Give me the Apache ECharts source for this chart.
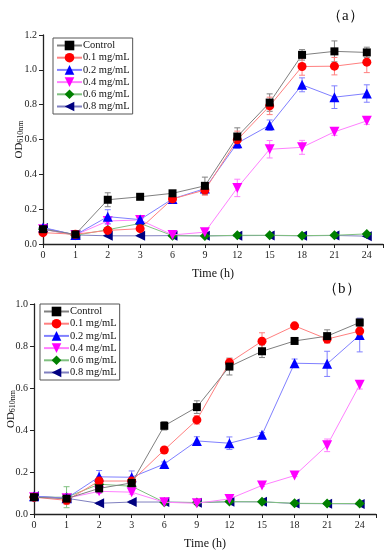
<!DOCTYPE html>
<html><head><meta charset="utf-8">
<script src="https://cdn.jsdelivr.net/npm/echarts@6/dist/echarts.min.js"></script>
<style>html,body{margin:0;padding:0;background:#fff}#c{width:392px;height:550px}</style>
</head><body><div id="c"></div>
<script>
var timeLabels = ['0','1','2','3','6','9','12','15','18','21','24'];
var names = ['Control','0.1 mg/mL','0.2 mg/mL','0.4 mg/mL','0.6 mg/mL','0.8 mg/mL'];

// Panel (a)
var ctrlA = [0.085, 0.055, 0.254, 0.271, 0.291, 0.334, 0.617, 0.812, 1.086, 1.106, 1.100];
var c01A  = [0.065, 0.056, 0.078, 0.088, 0.259, 0.310, 0.598, 0.793, 1.019, 1.021, 1.044];
var c02A  = [0.095, 0.052, 0.157, 0.140, 0.259, 0.318, 0.579, 0.682, 0.914, 0.843, 0.864];
var c04A  = [0.085, 0.052, 0.132, 0.138, 0.052, 0.068, 0.322, 0.544, 0.555, 0.644, 0.707];
var c06A  = [0.085, 0.050, 0.082, 0.118, 0.048, 0.046, 0.050, 0.050, 0.048, 0.050, 0.058];
var c08A  = [0.092, 0.052, 0.047, 0.047, 0.048, 0.047, 0.048, 0.049, 0.047, 0.049, 0.045];
var ctrlErrA = [0.010, 0.005, 0.040, 0.010, 0.010, 0.050, 0.050, 0.050, 0.030, 0.060, 0.030];
var c01ErrA  = [0.005, 0.005, 0.010, 0.010, 0.010, 0.030, 0.050, 0.050, 0.050, 0.050, 0.060];
var c02ErrA  = [0.010, 0.005, 0.040, 0.020, 0.020, 0.020, 0.030, 0.030, 0.040, 0.065, 0.050];
var c04ErrA  = [0.010, 0.005, 0.020, 0.020, 0.005, 0.010, 0.050, 0.050, 0.040, 0.020, 0.020];
var c06ErrA  = [0.005, 0.005, 0.010, 0.010, 0.005, 0.005, 0.005, 0.005, 0.005, 0.005, 0.005];
var c08ErrA  = [0.005, 0.005, 0.005, 0.005, 0.005, 0.005, 0.005, 0.005, 0.005, 0.005, 0.005];

// Panel (b)
var ctrlB = [0.080, 0.073, 0.122, 0.148, 0.420, 0.509, 0.702, 0.775, 0.824, 0.847, 0.912];
var c01B  = [0.080, 0.065, 0.157, 0.157, 0.305, 0.448, 0.721, 0.823, 0.896, 0.833, 0.871];
var c02B  = [0.085, 0.075, 0.177, 0.175, 0.238, 0.348, 0.337, 0.377, 0.718, 0.715, 0.852];
var c04B  = [0.080, 0.075, 0.108, 0.104, 0.056, 0.051, 0.072, 0.136, 0.183, 0.327, 0.615];
var c06B  = [0.080, 0.080, 0.142, 0.132, 0.056, 0.055, 0.059, 0.058, 0.051, 0.050, 0.050];
var c08B  = [0.085, 0.075, 0.051, 0.057, 0.057, 0.054, 0.058, 0.058, 0.050, 0.049, 0.048];
var ctrlErrB = [0.010, 0.010, 0.020, 0.020, 0.020, 0.030, 0.040, 0.030, 0.010, 0.030, 0.020];
var c01ErrB  = [0.010, 0.020, 0.020, 0.020, 0.010, 0.020, 0.020, 0.040, 0.010, 0.020, 0.020];
var c02ErrB  = [0.010, 0.010, 0.030, 0.030, 0.010, 0.020, 0.030, 0.010, 0.020, 0.060, 0.080];
var c04ErrB  = [0.010, 0.010, 0.010, 0.010, 0.005, 0.005, 0.005, 0.005, 0.005, 0.030, 0.020];
var c06ErrB  = [0.010, 0.050, 0.020, 0.010, 0.005, 0.005, 0.005, 0.005, 0.005, 0.005, 0.005];
var c08ErrB  = [0.010, 0.010, 0.005, 0.005, 0.005, 0.005, 0.005, 0.005, 0.005, 0.005, 0.005];

var markerColors = ['#000000','#ff0000','#0000ff','#ff00ff','#008000','#000080'];
var lineColors   = ['#808080','#ff8080','#8080ff','#ff80ff','#80c080','#8080c0'];
var symbols = ['rect','circle','triangle','triangle','diamond','triangle'];
var rotates = [0,0,0,180,0,90];
var sizes = [8,9,10,10,10,10];

var valsA = [ctrlA,c01A,c02A,c04A,c06A,c08A];
var errsA = [ctrlErrA,c01ErrA,c02ErrA,c04ErrA,c06ErrA,c08ErrA];
var valsB = [ctrlB,c01B,c02B,c04B,c06B,c08B];
var errsB = [ctrlErrB,c01ErrB,c02ErrB,c04ErrB,c06ErrB,c08ErrB];

var FONT = 'Liberation Serif';

function xAxisCfg(gi){
  return {
    type:'value', gridIndex:gi, min:0, max:10.5, interval:1,
    name:'Time (h)', nameLocation:'middle', nameGap:24, nameMoveOverlap:false,
    nameTextStyle:{fontFamily:FONT, fontSize:12, color:'#111'},
    axisLine:{lineStyle:{color:'#222', width:1.3}},
    axisTick:{show:true, length:4, lineStyle:{color:'#222'}},
    splitLine:{show:false},
    axisLabel:{fontFamily:FONT, fontSize:10, color:'#222', margin:6,
      formatter:function(v){ return (Math.abs(v-Math.round(v))<1e-6 && timeLabels[Math.round(v)]!==undefined) ? timeLabels[Math.round(v)] : ''; }}
  };
}
function yAxisCfg(gi, max, gap){
  return {
    type:'value', gridIndex:gi, min:0, max:max, interval:0.2,
    name:'{m|OD}{s|610nm}', nameLocation:'middle', nameGap:gap, nameMoveOverlap:false,
    nameTextStyle:{fontFamily:FONT, color:'#111',
      rich:{m:{fontFamily:FONT, fontSize:11, color:'#111', verticalAlign:'bottom', lineHeight:14},
            s:{fontFamily:FONT, fontSize:8, color:'#111', verticalAlign:'bottom', lineHeight:10}}},
    axisLine:{show:true, lineStyle:{color:'#222', width:1.3}},
    axisTick:{show:true, length:4, lineStyle:{color:'#222'}},
    splitLine:{show:false},
    axisLabel:{fontFamily:FONT, fontSize:10, color:'#222', margin:6,
      formatter:function(v){ return v.toFixed(1); }}
  };
}

var series = [];
function addPanel(vals, errs, gi){
  for (var k=0;k<6;k++){
    (function(k){
      var errData = vals[k].map(function(v,i){ return [i, v, errs[k][i]]; });
      series.push({
        type:'custom', name:'err'+gi+'_'+k, xAxisIndex:gi, yAxisIndex:gi, z:1,
        silent:true,
        data: errData,
        renderItem:function(params, api){
          var x = api.value(0), y = api.value(1), e = api.value(2);
          var top = api.coord([x, y+e]);
          var bot = api.coord([x, y-e]);
          var hw = 3;
          var st = {stroke: lineColors[k], lineWidth:1};
          return {type:'group', children:[
            {type:'line', shape:{x1:top[0], y1:top[1], x2:bot[0], y2:bot[1]}, style:st},
            {type:'line', shape:{x1:top[0]-hw, y1:top[1], x2:top[0]+hw, y2:top[1]}, style:st},
            {type:'line', shape:{x1:bot[0]-hw, y1:bot[1], x2:bot[0]+hw, y2:bot[1]}, style:st}
          ]};
        }
      });
    })(k);
  }
  for (var k=0;k<6;k++){
    series.push({
      type:'line', name:names[k], xAxisIndex:gi, yAxisIndex:gi, z:2 + (6-k),
      data: vals[k].map(function(v,i){ return [i, v]; }),
      symbol: symbols[k], symbolRotate: rotates[k], symbolSize: sizes[k],
      showAllSymbol:true,
      itemStyle:{color: markerColors[k], borderWidth:0},
      lineStyle:{color: lineColors[k], width:1},
      emphasis:{disabled:true},
      animation:false
    });
  }
}
addPanel(valsA, errsA, 0);
addPanel(valsB, errsB, 1);

function legendCfg(left, top){
  return {
    show:true, orient:'vertical', left:left, top:top,
    data: names, itemWidth:25, itemHeight:12, itemGap:1.2,
    padding:[2,3,2,3], borderColor:'#555', borderWidth:1,
    textStyle:{fontFamily:FONT, fontSize:10.5, color:'#111', padding:[0,0,0,-4]},
    selectedMode:false
  };
}

var chart = echarts.init(document.getElementById('c'), null, {renderer:'canvas'});
chart.setOption({
  animation:false,
  backgroundColor:'#fff',
  title:[
    {text:'（a）', left:322, top:4, textStyle:{fontFamily:FONT, fontSize:15, fontWeight:'normal', color:'#111'}},
    {text:'（b）', left:318, top:277, textStyle:{fontFamily:FONT, fontSize:15, fontWeight:'normal', color:'#111'}}
  ],
  legend:[legendCfg(53,38), legendCfg(40,304)],
  grid:[
    {left:43, top:35, width:340, height:209, containLabel:false, outerBoundsMode:'none'},
    {left:34, top:304, width:342, height:210, containLabel:false, outerBoundsMode:'none'}
  ],
  xAxis:[xAxisCfg(0), xAxisCfg(1)],
  yAxis:[yAxisCfg(0,1.2,18), yAxisCfg(1,1.0,17)],
  series: series
});
</script></body></html>
